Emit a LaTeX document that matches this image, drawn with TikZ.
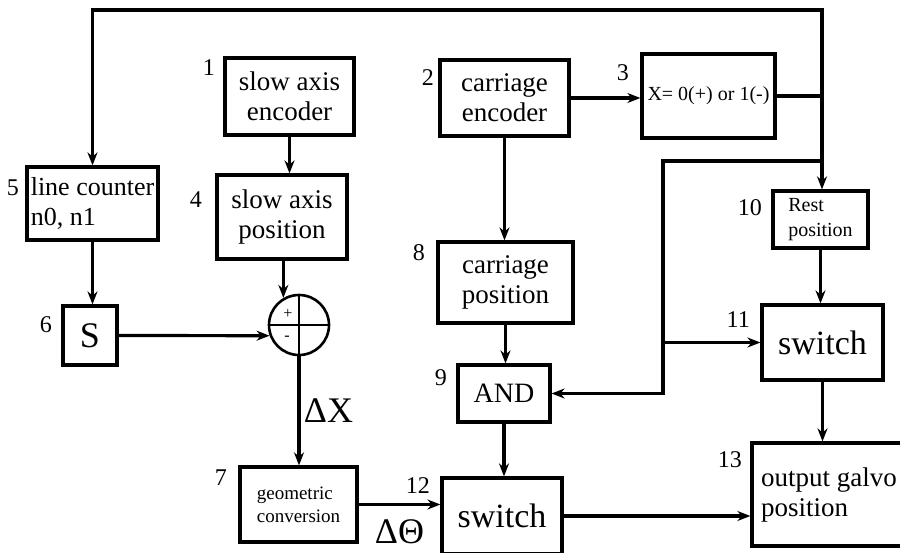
\documentclass[tikz,border=0pt]{standalone}
\usepackage{fontspec}
\setmainfont{Liberation Serif}
\usetikzlibrary{arrows.meta, positioning, calc}

\begin{document}
\begin{tikzpicture}[
    x=1pt, y=-1pt,
    >={Stealth[length=13pt, width=10pt]},
    line width=3.2pt,
    block/.style={draw, line width=3.2pt, inner sep=2pt, align=center, font=\fontsize{27}{30}\selectfont},
    num/.style={inner sep=0pt, anchor=north east, font=\fontsize{24}{24}\selectfont},
    sym/.style={font=\fontsize{36}{36}\selectfont},
    arr/.style={->, line width=3.2pt}
]

\clip[use as bounding box] (0,0) rectangle (900,552);

% ── Top row ──
\node[block, minimum width=129, minimum height=77] (b1) at (289.5, 96.5) {slow axis\\encoder};
\node[block, minimum width=129, minimum height=76] (b2) at (504.5, 98) {carriage\\encoder};
\node[block, minimum width=133, minimum height=84, font=\fontsize{20}{24}\selectfont] (b3) at (708.5, 96) {X= 0(+) or 1(-)};

% ── Second row ──
\node[block, minimum width=131, minimum height=73, align=left, font=\fontsize{26}{30}\selectfont] (b5) at (92.5, 203.5) {line counter\\n0, n1};
\node[block, minimum width=130, minimum height=84] (b4) at (282, 217) {slow axis\\position};
\node[block, minimum width=95, minimum height=57, align=left, font=\fontsize{20}{25}\selectfont] (b10) at (820.5, 219.5) {Rest\\position};
\node[block, minimum width=135, minimum height=81] (b8) at (505.5, 282.5) {carriage\\position};

% ── Third row ──
\node[block, minimum width=54, minimum height=59, font=\fontsize{36}{36}\selectfont] (b6) at (90, 335.5) {S};
\node[circle, draw, line width=2.6pt, minimum size=60, inner sep=0pt] (sum) at (299, 325) {};
\draw[line width=2.4pt] (sum.north) -- (sum.south);
\draw[line width=2.4pt] (sum.west) -- (sum.east);
\node[font=\fontsize{16}{16}\selectfont, inner sep=0pt] (plus) at ([shift={(-11,-11)}]sum.center) {+};
\node[font=\fontsize{16}{16}\selectfont, inner sep=0pt] (minus) at ([shift={(-12,13)}]sum.center) {-};
\node[block, minimum width=121, minimum height=75, font=\fontsize{34}{38}\selectfont] (b11) at (822.5, 342.5) {switch};
\node[block, minimum width=92, minimum height=57, font=\fontsize{28}{30}\selectfont] (b9) at (504, 393.5) {AND};

% ── Bottom row ──
\node[block, minimum width=117, minimum height=75, align=left, font=\fontsize{19}{23}\selectfont] (b7) at (298.5, 504.5) {geometric\\conversion};
\node[block, minimum width=120, minimum height=76, font=\fontsize{34}{38}\selectfont] (b12) at (502, 516) {switch};
\node[block, minimum width=154, minimum height=103, align=left] (b13) at (829, 494.5) {output galvo\\position};

% ── Block numbers ──
\node[num] (n1) at ([shift={(-7,2)}]b1.north west) {1};
\node[num] (n2) at ([shift={(-3,10)}]b2.north west) {2};
\node[num] (n3) at ([shift={(-10,11)}]b3.north west) {3};
\node[num] (n4) at ([shift={(-12,17)}]b4.north west) {4};
\node[num] (n5) at ([shift={(-5,13)}]b5.north west) {5};
\node[num] (n6) at ([shift={(-8,11)}]b6.north west) {6};
\node[num] (n7) at ([shift={(-10,3)}]b7.north west) {7};
\node[num] (n8) at ([shift={(-10,3)}]b8.north west) {8};
\node[num] (n9) at ([shift={(-8,5)}]b9.north west) {9};
\node[num] (n10) at ([shift={(-8,9)}]b10.north west) {10};
\node[num] (n11) at ([shift={(-9,7)}]b11.north west) {11};
\node[num] (n12) at ([shift={(-9,0)}]b12.north west) {12};
\node[num] (n13) at ([shift={(-7,9)}]b13.north west) {13};

% ── Signal path ──
\draw[arr] (b1.south) -- (b1.south |- b4.north);
\draw[arr] (b4.south -| sum.120) -- (sum.120);
\draw[arr] (b5.south) -- (b5.south |- b6.north);
\draw[arr] (b6.east) -- (sum.200);
\draw[arr] (sum.south) -- node[right, sym] (dx) {ΔX} (sum.south |- b7.north);
\draw[arr] (b7.east) -- node[below=10pt, sym] (dth) {ΔΘ} (b7.east -| b12.west);
\draw[arr] (b12.east) -- (b12.east -| b13.west);

% ── Carriage path ──
\draw[arr] (b2.east) -- (b2.east -| b3.west);
\draw[arr] (b2.south) -- (b2.south |- b8.north);
\draw[arr] (b8.south) -- (b8.south |- b9.north);
\draw[arr] (b9.south) -- (b9.south |- b12.north);
\draw[arr] (b10.south) -- (b10.south |- b11.north);
\draw[arr] (b11.south) -- (b11.south |- b13.north);

% ── Direction bus ──
\coordinate (bus) at (822, 10);
\coordinate (loop) at (663, 161);
\draw[arr] (b3.east) -- (b3.east -| bus) -- (bus) -| (b5.north);
\draw[arr] (b3.east -| bus) -- (bus |- b10.north);
\draw[arr] (bus |- loop) -- (loop) |- (b9.east);
\draw[arr] (loop |- b11.west) -- (b11.west);

\end{tikzpicture}
\end{document}
